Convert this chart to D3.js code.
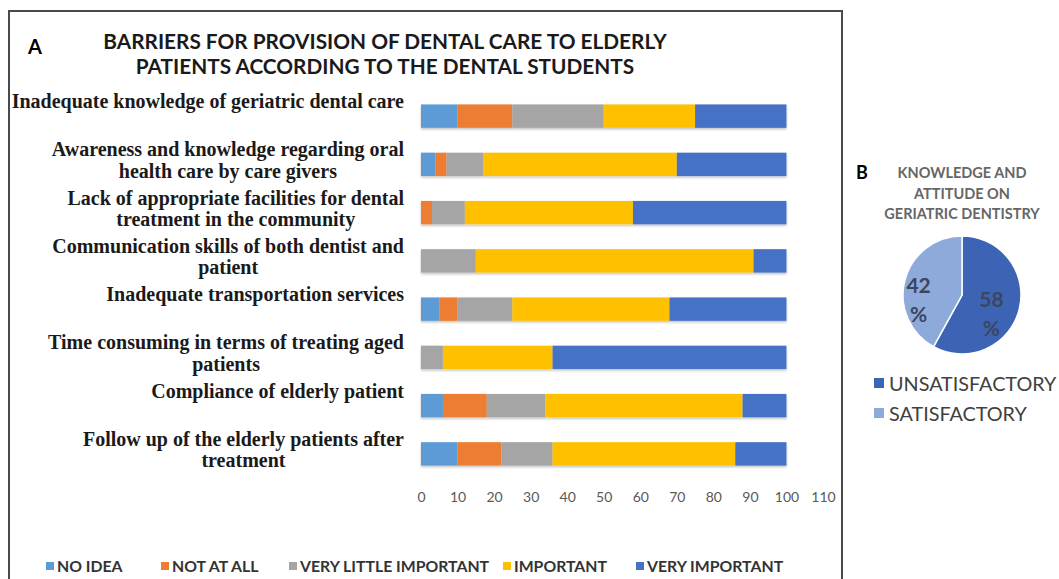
<!DOCTYPE html>
<html>
<head>
<meta charset="utf-8">
<script src="https://cdn.jsdelivr.net/npm/d3@7"></script>
<style>
  body { margin: 0; background: #fff; }
  svg { display: block; }
</style>
</head>
<body>
<div id="chart"></div>
<script>
// barriers (panel A), values are percentages
const barriers = [
  ['Inadequate knowledge of geriatric dental care'],
  ['Awareness and knowledge regarding oral', 'health care by care givers'],
  ['Lack of appropriate facilities for dental', 'treatment in the community'],
  ['Communication skills of both dentist and', 'patient'],
  ['Inadequate transportation services'],
  ['Time consuming in terms of treating aged', 'patients'],
  ['Compliance of elderly patient'],
  ['Follow up of the elderly patients after', 'treatment']
];
const levels = ['NO IDEA', 'NOT AT ALL', 'VERY LITTLE IMPORTANT', 'IMPORTANT', 'VERY IMPORTANT'];
const noIdea        = [10, 4, 0, 0, 5, 0, 6, 10];
const notAtAll      = [15, 3, 3, 0, 5, 0, 12, 12];
const veryLittle    = [25, 10, 9, 15, 15, 6, 16, 14];
const important     = [25, 53, 46, 76, 43, 30, 54, 50];
const veryImportant = [25, 30, 42, 9, 32, 64, 12, 14];
const xTicks = [0, 10, 20, 30, 40, 50, 60, 70, 80, 90, 100, 110];

// panel B
const pieLabels = ['UNSATISFACTORY', 'SATISFACTORY'];
const pieValues = [58, 42];

const levelColors = ['#5b9bd5', '#ed7d31', '#a5a5a5', '#ffc000', '#4472c4'];
const pieColors = ['#3d63b4', '#8eaadb'];

const sans = 'Lato, "Open Sans", sans-serif';
const serif = '"Liberation Serif", "Times New Roman", serif';

const width = 1059, height = 579;
const svg = d3.select('#chart').append('svg')
  .attr('width', width)
  .attr('height', height);

// frame around panel A
svg.append('path')
  .attr('d', 'M9,' + height + 'V11H842V' + height)
  .attr('fill', 'none')
  .attr('stroke', '#4a4a4a')
  .attr('stroke-width', 2);

const g = svg.append('g');

g.append('text')
  .attr('x', 35).attr('y', 54)
  .style('font-family', sans)
  .style('font-size', '20px')
  .style('font-weight', 'bold')
  .style('text-anchor', 'middle')
  .text('A');

const title = ['BARRIERS FOR PROVISION OF DENTAL CARE TO ELDERLY', 'PATIENTS ACCORDING TO THE DENTAL STUDENTS'];
g.selectAll('text.title').data(title).enter().append('text')
  .attr('class', 'title')
  .attr('x', 385)
  .attr('y', (d, i) => 49 + i * 25)
  .style('font-family', sans)
  .style('font-size', '20.8px')
  .style('font-weight', 'bold')
  .style('fill', '#1a1a1a')
  .style('text-anchor', 'middle')
  .text(d => d);

// scales
const x = d3.scaleLinear().domain([0, 110]).range([421, 823]);
const y = d3.scaleBand().domain(d3.range(barriers.length)).range([92, 478]).paddingInner(0.515).paddingOuter(0.2575);

const rows = barriers.map((b, i) => ({
  i: i,
  'NO IDEA': noIdea[i],
  'NOT AT ALL': notAtAll[i],
  'VERY LITTLE IMPORTANT': veryLittle[i],
  'IMPORTANT': important[i],
  'VERY IMPORTANT': veryImportant[i]
}));
const stacked = d3.stack().keys(levels)(rows);

const defs = svg.append('defs');
const shadow = defs.append('filter').attr('id', 'shadow').attr('x', '-5%').attr('y', '-20%').attr('width', '110%').attr('height', '160%');
shadow.append('feDropShadow').attr('dx', 0).attr('dy', 1.5).attr('stdDeviation', 1).attr('flood-color', '#000').attr('flood-opacity', 0.25);

const bars = g.append('g').attr('filter', 'url(#shadow)');
bars.selectAll('g').data(stacked).enter().append('g')
  .attr('fill', (d, i) => levelColors[i])
  .selectAll('rect').data(d => d).enter().append('rect')
  .attr('x', d => x(d[0]))
  .attr('width', d => x(d[1]) - x(d[0]))
  .attr('y', (d, i) => y(i))
  .attr('height', y.bandwidth());

// category labels: bold serif, lines centred in a block right-aligned at 404
const labelRight = 404;
const lab = g.selectAll('g.lab').data(barriers).enter().append('g').attr('class', 'lab');
lab.each(function(lines, i) {
  const el = d3.select(this);
  const cy = y(i) + y.bandwidth() / 2;
  const t = el.selectAll('text').data(lines).enter().append('text')
    .attr('y', (d, j) => cy - 8 + j * 21.5)
    .style('font-family', serif)
    .style('font-size', '20px')
    .style('font-weight', 'bold')
    .style('fill', '#1a1a1a')
    .style('text-anchor', 'middle')
    .text(d => d);
  let maxW = 0;
  t.each(function() { maxW = Math.max(maxW, this.getComputedTextLength()); });
  t.attr('x', labelRight - maxW / 2);
});

// x axis labels only
const xAxis = d3.axisBottom(x).tickValues(xTicks).tickSize(0).tickPadding(0);
const ax = g.append('g').attr('transform', 'translate(0,492)').call(xAxis);
ax.select('.domain').remove();
ax.selectAll('text')
  .style('font-family', sans)
  .style('font-size', '14px')
  .style('fill', '#595959');

// legend panel A
const legX = [46, 161, 289, 503, 636];
const leg = g.selectAll('g.leg').data(levels).enter().append('g')
  .attr('class', 'leg')
  .attr('transform', (d, i) => 'translate(' + legX[i] + ',566)');
leg.append('rect')
  .attr('x', 0).attr('y', -4).attr('width', 8).attr('height', 8)
  .attr('fill', (d, i) => levelColors[i]);
leg.append('text')
  .attr('x', 11).attr('y', 6)
  .style('font-family', sans)
  .style('font-size', '15.8px')
  .style('font-weight', 'bold')
  .style('fill', '#333')
  .text(d => d);

// panel B
const b = svg.append('g');
b.append('text')
  .attr('x', 862).attr('y', 179)
  .style('font-family', sans)
  .style('font-size', '18px')
  .style('font-weight', 'bold')
  .style('text-anchor', 'middle')
  .text('B');

const pieTitle = ['KNOWLEDGE AND', 'ATTITUDE ON', 'GERIATRIC DENTISTRY'];
b.selectAll('text.ptitle').data(pieTitle).enter().append('text')
  .attr('class', 'ptitle')
  .attr('x', 962)
  .attr('y', (d, i) => 178 + i * 20.5)
  .style('font-family', sans)
  .style('font-size', '14.5px')
  .style('font-weight', 'bold')
  .style('fill', '#666')
  .style('text-anchor', 'middle')
  .text(d => d);

const cx = 962, cy = 295, r = 59;
const pie = d3.pie().sort(null)(pieValues);
const arc = d3.arc().innerRadius(0).outerRadius(r);
const pg = b.append('g').attr('transform', 'translate(' + cx + ',' + cy + ')');
pg.selectAll('path').data(pie).enter().append('path')
  .attr('d', arc)
  .attr('fill', (d, i) => pieColors[i])
  .attr('stroke', '#fff')
  .attr('stroke-width', 1.5);

const labelArc = d3.arc().innerRadius(r * 0.62).outerRadius(r * 0.62);
const nudge = [[-6, 11], [-8, 15]];
pg.selectAll('g.pl').data(pie).enter().append('g')
  .attr('class', 'pl')
  .attr('transform', (d, i) => {
    const c = labelArc.centroid(d);
    return 'translate(' + (c[0] + nudge[i][0]) + ',' + (c[1] + nudge[i][1]) + ')';
  })
  .each(function(d) {
    const el = d3.select(this);
    [d.data, '%'].forEach((s, j) => {
      el.append('text')
        .attr('y', -8 + j * 29)
        .style('font-family', sans)
        .style('font-size', '21px')
        .style('font-weight', 'bold')
        .style('fill', '#3b4660')
        .style('text-anchor', 'middle')
        .text(s);
    });
  });

const pl = b.selectAll('g.pleg').data(pieLabels).enter().append('g')
  .attr('class', 'pleg')
  .attr('transform', (d, i) => 'translate(874,' + (383 + i * 30) + ')');
pl.append('rect')
  .attr('x', 0).attr('y', -5).attr('width', 10).attr('height', 10)
  .attr('fill', (d, i) => pieColors[i]);
pl.append('text')
  .attr('x', 15).attr('y', 7.5)
  .style('font-family', sans)
  .style('font-size', '19.8px')
  .style('fill', '#404040')
  .text(d => d);
</script>
</body>
</html>
